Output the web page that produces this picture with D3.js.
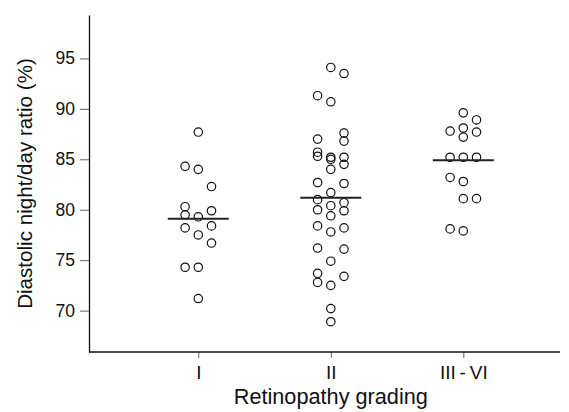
<!DOCTYPE html>
<html>
<head>
<meta charset="utf-8">
<script src="https://cdn.jsdelivr.net/npm/d3@7"></script>
<style>
  body { margin: 0; background: #fff; }
  text { font-family: "Liberation Sans", Arial, sans-serif; fill: #111; }
</style>
</head>
<body>
<div id="chart"></div>
<script>
const categories = ['I', 'II', 'III-VI']
const yTicks = [70, 75, 80, 85, 90, 95]

// values, slot = which column of the swarm (-1 left, 0 middle, 1 right)
const gradeI = [87.7, 84.3, 84.0, 82.3, 80.3, 79.5, 79.9, 79.3, 78.4, 78.2, 77.5, 76.7, 74.3, 74.3, 71.2]
const gradeISlot = [0, -1, 0, 1, -1, -1, 1, 0, 1, -1, 0, 1, -1, 0, 0]

const gradeII = [94.1, 93.5, 91.3, 90.7,
  87.0, 85.7, 85.3, 82.7, 81.0, 80.0, 78.4, 76.2, 73.7, 72.8,
  85.2, 85.0, 84.0, 81.7, 80.4, 79.4, 77.8, 74.9, 72.5, 70.2, 68.9,
  87.6, 86.8, 85.2, 84.5, 82.6, 80.7, 79.9, 78.2, 76.1, 73.4]
const gradeIISlot = [0, 1, -1, 0,
  -1, -1, -1, -1, -1, -1, -1, -1, -1, -1,
  0, 0, 0, 0, 0, 0, 0, 0, 0, 0, 0,
  1, 1, 1, 1, 1, 1, 1, 1, 1, 1]

const gradeIII = [89.6, 88.9, 87.8, 88.1, 87.2, 87.7, 85.2, 85.2, 85.2, 83.2, 82.8, 81.1, 81.1, 78.1, 77.9]
const gradeIIISlot = [0, 1, -1, 0, 0, 1, -1, 0, 1, -1, 0, 0, 1, -1, 0]

const centreLines = [79.1, 81.2, 84.9]

const width = 569
const height = 412
const margin = { top: 15, right: 9, bottom: 60, left: 89 }

const svg = d3.select('#chart').append('svg')
  .attr('width', width)
  .attr('height', height)

const plotBottom = height - margin.bottom
const plotRight = width - margin.right

const y = d3.scaleLinear()
  .domain([65.9, 99.3])
  .range([plotBottom, margin.top])

const x = d3.scalePoint()
  .domain(categories)
  .range([198.3, 463.3])

const slot = d3.scaleLinear().domain([-1, 1]).range([-13.2, 13.2])

const groups = [
  { cat: 'I', values: gradeI, slots: gradeISlot, centre: centreLines[0] },
  { cat: 'II', values: gradeII, slots: gradeIISlot, centre: centreLines[1] },
  { cat: 'III-VI', values: gradeIII, slots: gradeIIISlot, centre: centreLines[2] },
]

// y axis
const yAxis = svg.append('g')
  .attr('transform', `translate(${margin.left},0)`)
  .call(d3.axisLeft(y).tickValues(yTicks).tickSize(9).tickSizeOuter(0).tickPadding(5))
yAxis.select('.domain').attr('stroke', '#111').attr('stroke-width', 1.3)
yAxis.selectAll('.tick line').attr('stroke', '#666')
yAxis.selectAll('.tick text')
  .style('font-size', '17.5px')
  .style('font-family', '"Liberation Sans", Arial, sans-serif')
  .attr('fill', '#111')

// x axis
const xAxis = svg.append('g')
  .attr('transform', `translate(0,${plotBottom})`)
  .call(d3.axisBottom(x).tickSize(6).tickSizeOuter(0).tickPadding(8)
    .tickFormat(d => d.replace('-', '\u2009-\u2009')))
xAxis.select('.domain').remove()
xAxis.selectAll('.tick line').attr('stroke', '#666')
xAxis.selectAll('.tick text')
  .style('font-size', '19px')
  .style('font-family', '"Liberation Sans", Arial, sans-serif')
  .attr('fill', '#111')
svg.append('line')
  .attr('x1', margin.left).attr('x2', plotRight)
  .attr('y1', plotBottom).attr('y2', plotBottom)
  .attr('stroke', '#111').attr('stroke-width', 1.3)

// titles
svg.append('text')
  .attr('x', x('II'))
  .attr('y', 404)
  .attr('text-anchor', 'middle')
  .style('font-size', '21.7px')
  .text('Retinopathy grading')

svg.append('text')
  .attr('transform', `translate(32,${(margin.top + plotBottom) / 2}) rotate(-90)`)
  .attr('text-anchor', 'middle')
  .style('font-size', '20.6px')
  .text('Diastolic night/day ratio (%)')

// points
const pts = groups.flatMap(g => g.values.map((v, i) => ({ cat: g.cat, v, s: g.slots[i] })))
svg.append('g').selectAll('circle')
  .data(pts)
  .join('circle')
  .attr('cx', d => x(d.cat) + slot(d.s))
  .attr('cy', d => y(d.v))
  .attr('r', 4.2)
  .attr('fill', 'none')
  .attr('stroke', '#111')
  .attr('stroke-width', 1.2)

// centre lines
svg.append('g').selectAll('line')
  .data(groups)
  .join('line')
  .attr('x1', d => x(d.cat) - 30.5)
  .attr('x2', d => x(d.cat) + 30.5)
  .attr('y1', d => y(d.centre))
  .attr('y2', d => y(d.centre))
  .attr('stroke', '#222')
  .attr('stroke-width', 2)
</script>
</body>
</html>
